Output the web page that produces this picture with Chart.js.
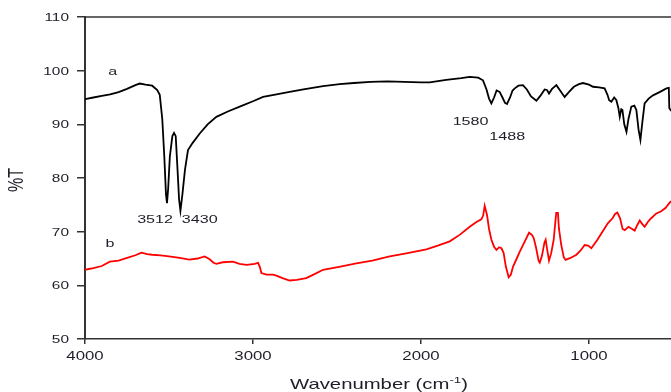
<!DOCTYPE html>
<html>
<head>
<meta charset="utf-8">
<title>FTIR spectra</title>
<script src="https://cdn.jsdelivr.net/npm/chart.js@4.4.0/dist/chart.umd.min.js"></script>
<style>
  html, body { margin: 0; padding: 0; background: #fff; overflow: hidden; }
  canvas { display: block; }
</style>
</head>
<body>
<canvas id="ftirChart" width="674" height="392"></canvas>
<script>
// --- DATA ---
// curve a (black)
const waveA = [4000, 3950, 3900, 3850, 3800, 3750, 3700, 3674, 3640, 3600, 3570, 3555, 3540, 3528, 3518, 3512,
    3505, 3495, 3480, 3470, 3460, 3450, 3440, 3432, 3420, 3405, 3387, 3360, 3317, 3270, 3218, 3150, 3079, 3000,
    2940, 2860, 2782, 2700, 2583, 2484, 2400, 2300, 2200, 2100, 2000, 1948, 1850, 1760, 1710, 1660, 1631, 1610,
    1595, 1581, 1565, 1550, 1532, 1515, 1500, 1488, 1470, 1455, 1442, 1420, 1393, 1370, 1345, 1313, 1290, 1264,
    1250, 1238, 1220, 1194, 1170, 1145, 1120, 1090, 1060, 1036, 1000, 976, 940, 907, 890, 880, 867, 850, 837,
    825, 817, 808, 801, 790, 777, 765, 748, 730, 718, 705, 694, 682, 669, 645, 619, 580, 539, 525, 522, 510];
const transA = [94.7, 95.0, 95.3, 95.6, 96.0, 96.6, 97.3, 97.6, 97.4, 97.2, 96.4, 95.5, 91.0, 84.0, 77.0, 75.3,
    78.0, 84.0, 87.8, 88.4, 87.8, 82.0, 76.0, 73.9, 77.0, 81.5, 85.2, 86.5, 88.3, 90.0, 91.4, 92.4, 93.3, 94.3,
    95.1, 95.6, 96.05, 96.5, 97.1, 97.5, 97.7, 97.9, 98.0, 97.9, 97.8, 97.8, 98.3, 98.6, 98.85, 98.7, 98.2, 96.5,
    94.8, 93.9, 95.0, 96.3, 96.05, 95.0, 94.0, 93.8, 95.0, 96.3, 96.7, 97.2, 97.3, 96.5, 95.2, 94.4, 95.3, 96.5,
    96.4, 95.75, 96.6, 97.3, 96.2, 95.1, 96.0, 97.0, 97.5, 97.7, 97.4, 97.0, 96.9, 96.7, 95.5, 94.5, 94.2, 95.0, 94.5,
    93.0, 91.4, 92.8, 92.65, 90.0, 88.6, 91.0, 93.3, 93.5, 92.65, 89.0, 87.1, 90.5, 93.9, 94.8, 95.4, 96.0, 96.7, 96.8, 93.0, 92.5];

// curve b (red)
const waveB = [4000, 3950, 3900, 3852, 3800, 3750, 3700, 3664, 3630, 3600, 3550, 3500, 3436, 3380, 3330, 3288,
    3260, 3235, 3218, 3180, 3119, 3080, 3039, 2990, 2970, 2960, 2950, 2920, 2880, 2861, 2820, 2782, 2740, 2683,
    2640, 2583, 2480, 2385, 2290, 2186, 2080, 1968, 1900, 1829, 1770, 1710, 1670, 1641, 1630, 1621, 1607, 1595,
    1581, 1565, 1551, 1535, 1521, 1508, 1495, 1478, 1465, 1452, 1430, 1412, 1385, 1357, 1340, 1329, 1315, 1300,
    1293, 1280, 1265, 1258, 1248, 1238, 1225, 1210, 1204, 1195, 1185, 1179, 1165, 1150, 1139, 1110, 1075, 1050,
    1026, 1005, 986, 950, 920, 887, 860, 845, 831, 815, 800, 787, 765, 748, 728, 713, 698, 685, 669, 650, 630,
    599, 570, 545, 520, 505];
const transB = [62.9, 63.2, 63.6, 64.4, 64.6, 65.1, 65.6, 66.1, 65.8, 65.7, 65.6, 65.4, 65.1, 64.8, 65.0, 65.4,
    64.9, 64.2, 64.0, 64.3, 64.4, 64.0, 63.8, 64.0, 64.2, 63.5, 62.3, 62.0, 62.0, 61.8, 61.3, 60.9, 61.0, 61.35,
    62.0, 62.9, 63.5, 64.1, 64.6, 65.4, 66.0, 66.7, 67.4, 68.2, 69.4, 70.9, 71.8, 72.3, 73.0, 74.8, 73.1, 70.5,
    68.5, 67.2, 66.6, 67.1, 66.9, 66.0, 63.5, 61.5, 62.0, 63.5, 65.0, 66.3, 68.0, 69.8, 69.4, 68.8, 67.0, 64.6,
    64.25, 65.5, 68.0, 68.5, 66.5, 64.6, 66.0, 68.5, 70.6, 73.5, 73.5, 70.6, 67.5, 65.2, 64.75, 65.1, 65.7, 66.5,
    67.5, 67.4, 66.9, 68.5, 70.0, 71.6, 72.5, 73.3, 73.55, 72.5, 70.5, 70.3, 70.9, 70.6, 70.2, 71.2, 72.1, 71.5,
    70.9, 71.8, 72.5, 73.4, 73.8, 74.4, 75.4, 75.8];

const xTicks = [4000, 3000, 2000, 1000];
const yTicks = [50, 60, 70, 80, 90, 100, 110];

// text marks in data coordinates (wavenumber, %T)
const peakText = ['a', 'b', '3512', '3430', '1580', '1488'];
const peakWave = [3835, 3851, 3583, 3317, 1705, 1487];
const peakTrans = [100, 67.9, 72.3, 72.3, 90.7, 87.8];

// --- TEXT HELPERS ---
// the source picture was squeezed vertically, so all text is drawn wider than it is tall
const SX = 1.4;
const FONT = '"Liberation Sans", Arial, sans-serif';
const INK = '#1e1e28';

function wideText(ctx, text, x, y, size, align) {
    ctx.save();
    ctx.font = size + 'px ' + FONT;
    ctx.fillStyle = INK;
    ctx.textAlign = align;
    ctx.textBaseline = 'alphabetic';
    ctx.translate(x, y);
    ctx.scale(SX, 1);
    ctx.fillText(text, 0, size * 0.358); // y = visual centre of the digits
    ctx.restore();
}

const textPlugin = {
    id: 'textPlugin',
    afterDraw(chart) {
        const ctx = chart.ctx;
        const xs = chart.scales.x, ys = chart.scales.y;
        const area = chart.chartArea;

        // top frame line
        ctx.save();
        ctx.strokeStyle = '#333';
        ctx.lineWidth = 1.5;
        ctx.beginPath();
        ctx.moveTo(area.left, area.top);
        ctx.lineTo(area.right, area.top);
        ctx.stroke();
        ctx.restore();

        yTicks.forEach(v => wideText(ctx, String(v), area.left - 16, ys.getPixelForValue(v), 11, 'right'));
        xTicks.forEach(v => wideText(ctx, String(v), xs.getPixelForValue(v), area.bottom + 17, 12, 'center'));

        peakText.forEach((t, i) => {
            wideText(ctx, t, xs.getPixelForValue(peakWave[i]), ys.getPixelForValue(peakTrans[i]), 11.5, 'center');
        });

        // y title, rotated
        ctx.save();
        ctx.font = '16px ' + FONT;
        ctx.fillStyle = INK;
        ctx.textAlign = 'center';
        ctx.textBaseline = 'middle';
        ctx.translate(17, 180);
        ctx.scale(SX, 1);
        ctx.rotate(-Math.PI / 2);
        ctx.fillText('%T', 0, 0);
        ctx.restore();

        // x title with superscript
        ctx.save();
        ctx.fillStyle = INK;
        ctx.textBaseline = 'alphabetic';
        ctx.textAlign = 'left';
        const main = 14.5, sup = 9.5;
        ctx.font = main + 'px ' + FONT;
        const w1 = ctx.measureText('Wavenumber (cm').width;
        const w3 = ctx.measureText(')').width;
        ctx.font = sup + 'px ' + FONT;
        const w2 = ctx.measureText('-1').width;
        ctx.translate((area.left + area.right) / 2, 389);
        ctx.scale(SX, 1);
        let x0 = -(w1 + w2 + w3) / 2;
        ctx.font = main + 'px ' + FONT;
        ctx.fillText('Wavenumber (cm', x0, 0);
        ctx.font = sup + 'px ' + FONT;
        ctx.fillText('-1', x0 + w1, -6);
        ctx.font = main + 'px ' + FONT;
        ctx.fillText(')', x0 + w1 + w2, 0);
        ctx.restore();
    }
};

// --- CHART ---
const ctx = document.getElementById('ftirChart').getContext('2d');
new Chart(ctx, {
    type: 'line',
    data: {
        datasets: [
            {
                label: 'a',
                data: waveA.map((w, i) => ({ x: w, y: transA[i] })),
                borderColor: '#000000',
                borderWidth: 1.8,
                pointRadius: 0,
                tension: 0,
                fill: false
            },
            {
                label: 'b',
                data: waveB.map((w, i) => ({ x: w, y: transB[i] })),
                borderColor: '#ff0000',
                borderWidth: 1.8,
                pointRadius: 0,
                tension: 0,
                fill: false
            }
        ]
    },
    options: {
        responsive: false,
        animation: false,
        devicePixelRatio: 1,
        layout: { padding: { top: 17, right: 1, left: 0, bottom: 0 } },
        plugins: { legend: { display: false }, tooltip: { enabled: false } },
        scales: {
            x: {
                type: 'linear',
                reverse: true,
                min: 500,
                max: 4000,
                afterBuildTicks: s => { s.ticks = xTicks.map(v => ({ value: v })); },
                afterFit: s => { s.height = 53; },
                ticks: { display: false },
                grid: { drawOnChartArea: false, drawTicks: true, tickLength: 5, color: '#333', lineWidth: 1.5 },
                border: { color: '#333', width: 1.5 }
            },
            y: {
                min: 50,
                max: 110,
                afterBuildTicks: s => { s.ticks = yTicks.map(v => ({ value: v })); },
                afterFit: s => { s.width = 85; },
                ticks: { display: false },
                grid: { drawOnChartArea: false, drawTicks: true, tickLength: 8, color: '#333', lineWidth: 1.5 },
                border: { color: '#333', width: 2 }
            }
        }
    },
    plugins: [textPlugin]
});
</script>
</body>
</html>
